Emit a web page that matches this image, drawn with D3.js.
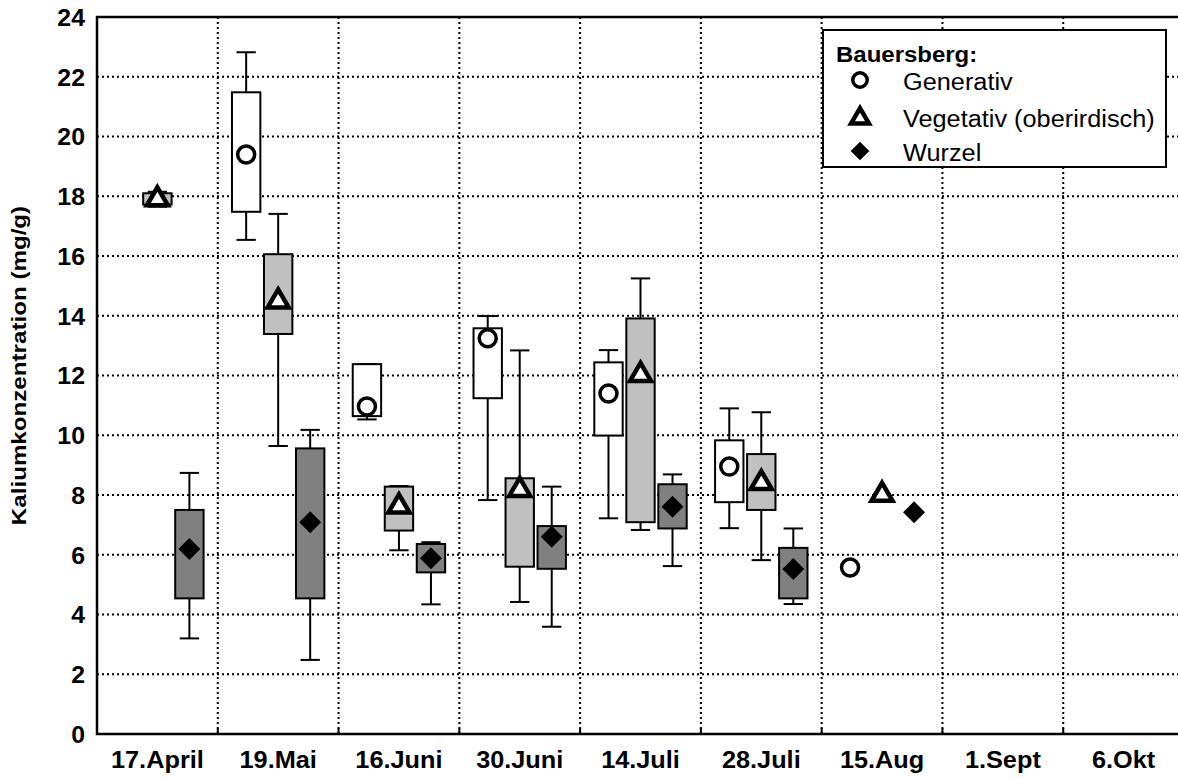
<!DOCTYPE html>
<html>
<head>
<meta charset="utf-8">
<script src="https://cdn.jsdelivr.net/npm/d3@7"></script>
<style>
  body { margin: 0; background: #fff; }
  svg { display: block; }
  text { font-family: "Liberation Sans", Arial, Helvetica, sans-serif; fill: #000; }
</style>
</head>
<body>
<svg id="chart" width="1178" height="778"></svg>
<script>
// Sampling dates (categories)
const dates = ["17.April", "19.Mai", "16.Juni", "30.Juni", "14.Juli", "28.Juli", "15.Aug", "1.Sept", "6.Okt"];
const yTicks = [0, 2, 4, 6, 8, 10, 12, 14, 16, 18, 20, 22, 24];

// Per date: [whisker low, box low, box high, whisker high, mean]; a single number = point only
const generativ = [null, [16.54, 17.48, 21.48, 22.82, 19.40], [10.53, 10.64, 12.38, 12.38, 10.96],
  [7.83, 11.24, 13.58, 13.99, 13.25], [7.22, 9.99, 12.44, 12.85, 11.40], [6.89, 7.76, 9.83, 10.90, 8.95],
  5.57, null, null];
const vegetativ = [[17.65, 17.72, 18.1, 18.15, 17.95], [9.64, 13.39, 16.06, 17.41, 14.53], [6.15, 6.81, 8.28, 8.3, 7.67],
  [4.42, 5.60, 8.56, 12.84, 8.22], [6.83, 7.09, 13.91, 15.25, 12.07], [5.82, 7.50, 9.37, 10.77, 8.45],
  8.06, null, null];
const wurzel = [[3.20, 4.54, 7.50, 8.74, 6.19], [2.48, 4.54, 9.56, 10.18, 7.09], [4.34, 5.41, 6.36, 6.42, 5.88],
  [3.59, 5.53, 6.96, 8.28, 6.60], [5.62, 6.88, 8.36, 8.69, 7.61], [4.35, 4.54, 6.23, 6.88, 5.52],
  7.42, null, null];

const seriesNames = ["Generativ", "Vegetativ (oberirdisch)", "Wurzel"];
const legendTitle = "Bauersberg:";
const yTitle = "Kaliumkonzentration (mg/g)";

const series = [
  { name: seriesNames[0], data: generativ, fill: "#ffffff", marker: "circle", slot: -1 },
  { name: seriesNames[1], data: vegetativ, fill: "#c0c0c0", marker: "triangle", slot: 0 },
  { name: seriesNames[2], data: wurzel, fill: "#808080", marker: "diamond", slot: 1 }
];

const svg = d3.select("#chart");
const plot = { left: 97, top: 17, right: 1184, bottom: 734 };

const x = d3.scaleBand().domain(dates).range([plot.left, plot.right]).padding(0);
const y = d3.scaleLinear().domain([0, 24]).range([plot.bottom, plot.top]);
const bw = x.bandwidth();
const slotStep = bw * 0.265;
const boxW = bw * 0.235;
const capW = bw * 0.16;

// stretch text horizontally to the wide bold face of the chart
function stretch(sel, k) {
  sel.each(function () {
    const len = this.getComputedTextLength();
    d3.select(this).attr("textLength", len * k).attr("lengthAdjust", "spacingAndGlyphs");
  });
}

// dotted grid
const grid = svg.append("g").attr("stroke", "#000").attr("stroke-width", 2).attr("stroke-dasharray", "2,3");
grid.selectAll("line.h").data(yTicks.filter(v => v > 0 && v < 24)).join("line")
  .attr("x1", plot.left).attr("x2", plot.right)
  .attr("y1", d => y(d)).attr("y2", d => y(d));
grid.selectAll("line.v").data(dates.slice(1)).join("line")
  .attr("x1", d => x(d)).attr("x2", d => x(d))
  .attr("y1", plot.top).attr("y2", plot.bottom);

// y axis
const yAxis = svg.append("g").attr("transform", `translate(${plot.left},0)`)
  .call(d3.axisLeft(y).tickValues(yTicks).tickSize(0).tickPadding(12));
yAxis.select(".domain").remove();
yAxis.selectAll("text").attr("font-size", 23).attr("font-weight", "bold")
  .attr("font-family", "'Liberation Sans', Arial, sans-serif").attr("dy", "0.36em");
stretch(yAxis.selectAll("text"), 1.08);

// x axis
const xAxis = svg.append("g").attr("transform", `translate(0,${plot.bottom})`)
  .call(d3.axisBottom(x).tickSize(0).tickPadding(18));
xAxis.select(".domain").remove();
xAxis.selectAll("text").attr("font-size", 23).attr("font-weight", "bold")
  .attr("font-family", "'Liberation Sans', Arial, sans-serif");
stretch(xAxis.selectAll("text"), 1.1);

// small ticks at category borders
svg.append("g").selectAll("line").data(dates.slice(1)).join("line")
  .attr("x1", d => x(d)).attr("x2", d => x(d))
  .attr("y1", plot.bottom).attr("y2", plot.bottom - 6)
  .attr("stroke", "#000").attr("stroke-width", 2);

// frame
svg.append("path")
  .attr("d", `M${plot.right},${plot.top}H${plot.left}V${plot.bottom}H${plot.right}`)
  .attr("fill", "none").attr("stroke", "#000").attr("stroke-width", 2.5);

// y title
svg.append("text")
  .attr("transform", `translate(26,${(plot.top + plot.bottom) / 2 - 10}) rotate(-90)`)
  .attr("text-anchor", "middle").attr("font-size", 21).attr("font-weight", "bold")
  .text(yTitle)
  .call(s => stretch(s, 1.15));

// markers
function drawMarker(g, type, cx, cy, scale) {
  const s = scale || 1;
  if (type === "circle") {
    g.append("circle").attr("cx", cx).attr("cy", cy).attr("r", 8.5 * s)
      .attr("fill", "#fff").attr("stroke", "#000").attr("stroke-width", 3.5);
  } else if (type === "triangle") {
    const h = 18 * s, w = 21 * s;
    g.append("path")
      .attr("d", `M${cx},${cy - h * 0.58}L${cx + w / 2},${cy + h * 0.42}L${cx - w / 2},${cy + h * 0.42}Z`)
      .attr("fill", "#fff").attr("stroke", "#000").attr("stroke-width", 4.5).attr("stroke-linejoin", "miter");
  } else {
    const r = 11 * s;
    g.append("path")
      .attr("d", `M${cx},${cy - r}L${cx + r},${cy}L${cx},${cy + r}L${cx - r},${cy}Z`)
      .attr("fill", "#000");
  }
}

// boxes
const marks = svg.append("g");
series.forEach(s => {
  s.data.forEach((row, i) => {
    if (row === null) return;
    const cx = x(dates[i]) + bw / 2 + s.slot * slotStep;
    const g = marks.append("g");
    if (Array.isArray(row)) {
      const [lo, q1, q3, hi, m] = row;
      g.append("line").attr("x1", cx).attr("x2", cx).attr("y1", y(lo)).attr("y2", y(hi)).attr("stroke", "#000").attr("stroke-width", 2);
      [lo, hi].forEach(v => g.append("line")
        .attr("x1", cx - capW / 2).attr("x2", cx + capW / 2).attr("y1", y(v)).attr("y2", y(v))
        .attr("stroke", "#000").attr("stroke-width", 2));
      g.append("rect").attr("x", cx - boxW / 2).attr("width", boxW)
        .attr("y", y(q3)).attr("height", y(q1) - y(q3))
        .attr("fill", s.fill).attr("stroke", "#000").attr("stroke-width", 2);
      drawMarker(g, s.marker, cx, y(m));
    } else {
      drawMarker(g, s.marker, cx, y(row));
    }
  });
});

// legend
const lg = svg.append("g");
lg.append("rect").attr("x", 823).attr("y", 30).attr("width", 343).attr("height", 137)
  .attr("fill", "#fff").attr("stroke", "#000").attr("stroke-width", 2);
lg.append("text").attr("x", 836).attr("y", 62).attr("font-size", 22).attr("font-weight", "bold")
  .text(legendTitle).call(s => stretch(s, 1.09));
const rowY = [80, 117, 151];
series.forEach((s, i) => {
  drawMarker(lg, s.marker, 860, rowY[i], 0.85);
  lg.append("text").attr("x", 903).attr("y", rowY[i] + 10).attr("font-size", 23)
    .text(s.name).call(t => stretch(t, 1.1));
});
</script>
</body>
</html>
